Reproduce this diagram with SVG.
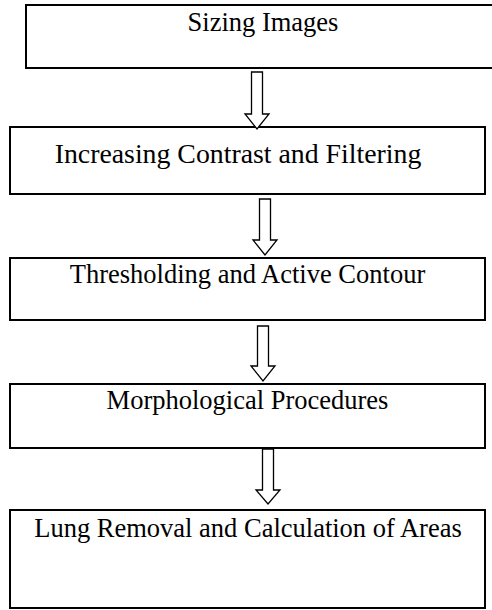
<svg xmlns="http://www.w3.org/2000/svg" width="492" height="610" viewBox="0 0 492 610">
<style>
.box{fill:#fff;stroke:#000;stroke-width:2}
.lbl{font-family:"Liberation Serif","Times New Roman",serif;font-size:26.5px;fill:#000;text-anchor:middle}
.arr{fill:#fff;stroke:#000;stroke-width:1.3;stroke-linejoin:miter}
</style>
<rect width="492" height="610" fill="#fff"/>
<g id="n1"><rect class="box" x="26" y="5" width="475" height="63"/><text class="lbl" x="263" y="31">Sizing Images</text></g>
<g id="n2"><rect class="box" x="10" y="127" width="475" height="67"/><text class="lbl" x="238" y="163" style="font-size:27.8px">Increasing Contrast and Filtering</text></g>
<g id="n3"><rect class="box" x="10" y="258" width="475" height="62"/><text class="lbl" x="247.5" y="283">Thresholding and Active Contour</text></g>
<g id="n4"><rect class="box" x="10" y="384" width="475" height="64"/><text class="lbl" x="247.5" y="409">Morphological Procedures</text></g>
<g id="n5"><rect class="box" x="10" y="510" width="475" height="98"/><text class="lbl" x="248" y="537">Lung Removal and Calculation of Areas</text></g>
<g id="connectors">
<path class="arr" d="M251.5,72 H262.5 V114 H269 L257,129 L245,114 H251.5 Z"/>
<path class="arr" d="M259.5,199 H270.5 V240 H277 L265,255 L253,240 H259.5 Z"/>
<path class="arr" d="M257.5,326 H268.5 V366 H275 L263,381 L251,366 H257.5 Z"/>
<path class="arr" d="M262.5,449 H273.5 V490 H280 L268,504 L256,490 H262.5 Z"/>
</g>
</svg>
